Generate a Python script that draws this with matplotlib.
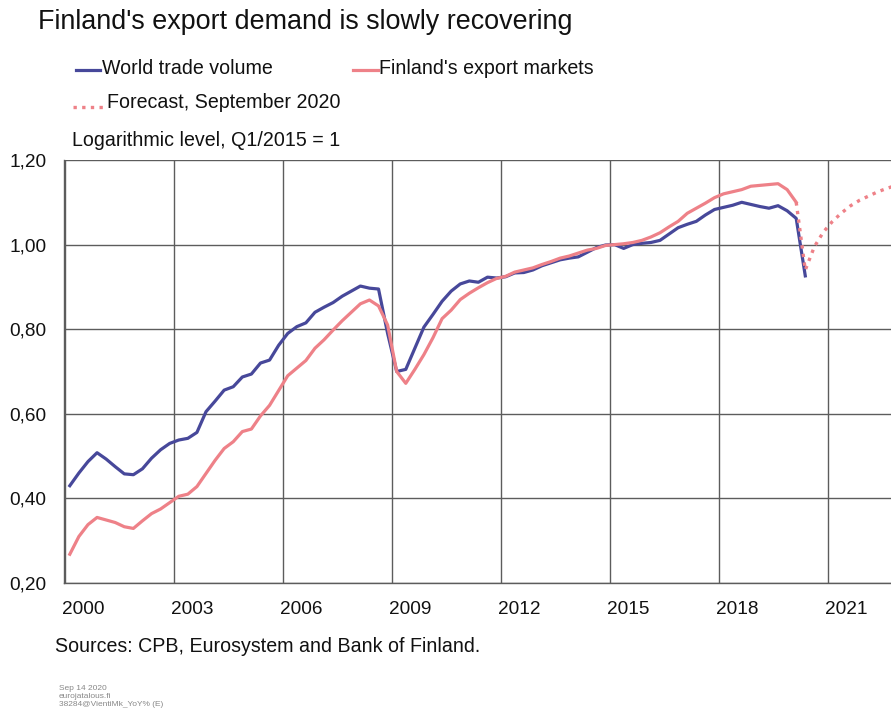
import matplotlib
matplotlib.use("Agg")
import matplotlib.pyplot as plt
from matplotlib.lines import Line2D
import numpy as np

plt.rcParams['font.family'] = ['Liberation Sans', 'DejaVu Sans']

# quarterly data, first quarter 2000Q1, level Q1/2015 = 1
first_year = 2000
world_trade = [
    0.43, 0.46, 0.487, 0.508,
    0.493, 0.475, 0.458, 0.456,
    0.47, 0.495, 0.515, 0.53,
    0.538, 0.542, 0.556, 0.605,
    0.63, 0.656, 0.664, 0.687,
    0.694, 0.72, 0.727, 0.762,
    0.79, 0.806, 0.815, 0.84,
    0.852, 0.863, 0.878, 0.89,
    0.902, 0.897, 0.895, 0.79,
    0.70, 0.705, 0.755, 0.805,
    0.835, 0.866, 0.89, 0.907,
    0.914, 0.911, 0.923, 0.921,
    0.924, 0.933, 0.934, 0.94,
    0.95, 0.957, 0.964, 0.968,
    0.971, 0.982, 0.993, 0.999,
    1.0, 0.991, 1.0, 1.003,
    1.005, 1.01, 1.025, 1.04,
    1.048, 1.055, 1.07, 1.083,
    1.088, 1.093, 1.10, 1.095,
    1.09, 1.086, 1.092, 1.08,
    1.062, 0.926,
]
export_markets = [
    0.268, 0.31, 0.338, 0.355,
    0.349, 0.343, 0.333, 0.329,
    0.347, 0.364, 0.375, 0.39,
    0.405, 0.41, 0.428, 0.459,
    0.49, 0.518, 0.534, 0.558,
    0.564, 0.595, 0.62, 0.655,
    0.69, 0.708, 0.726, 0.755,
    0.775, 0.798, 0.82, 0.84,
    0.86, 0.869, 0.855, 0.81,
    0.70, 0.672, 0.705, 0.74,
    0.78, 0.825, 0.845, 0.87,
    0.885, 0.898, 0.91, 0.92,
    0.925, 0.935, 0.94, 0.945,
    0.953, 0.96, 0.968, 0.973,
    0.98, 0.987, 0.991, 0.998,
    1.0, 1.002, 1.005, 1.01,
    1.018, 1.028, 1.042, 1.055,
    1.074, 1.086, 1.098, 1.111,
    1.12, 1.125, 1.13, 1.138,
    1.14, 1.142, 1.144, 1.13,
    1.10,
]
# forecast starts from 2020Q1
forecast_start = 80
forecast = [1.10, 0.94, 0.995, 1.03, 1.055, 1.075, 1.092, 1.105, 1.115, 1.125, 1.133, 1.14]

year_ticks = list(range(2000, 2022, 3))
y_ticks = [0.2, 0.4, 0.6, 0.8, 1.0, 1.2]

BLUE = '#47489a'
PINK = '#ee8188'
GRID = '#5c5c5c'
TXT = '#111111'
FS = 14.1


def qpos(start, n):
    # middle of each quarter
    return first_year + (np.arange(start, start + n) + 0.5) / 4.0


W, H = 891, 711
fig = plt.figure(figsize=(W / 100, H / 100), dpi=100)
ax = fig.add_axes([64 / W, (H - 583) / H, (W - 64) / W, (583 - 160) / H])

ax.plot(qpos(0, len(world_trade)), world_trade, color=BLUE, lw=2.3, zorder=3)
ax.plot(qpos(0, len(export_markets)), export_markets, color=PINK, lw=2.3, zorder=3)
ax.plot(qpos(forecast_start, len(forecast)), forecast, color=PINK, lw=2.4,
        linestyle=(0, (1, 1.6)), zorder=3)

ax.set_xlim(1999.965, 2022.735)
ax.set_ylim(0.2, 1.2)
ax.set_xticks(year_ticks)
ax.set_xticklabels([])
# year labels sit in the middle of the year
ax.set_xticks([y + 0.5 for y in year_ticks], minor=True)
ax.set_xticklabels([str(y) for y in year_ticks], minor=True)
ax.set_yticks(y_ticks)
ax.set_yticklabels([('%.2f' % v).replace('.', ',') for v in y_ticks])
ax.tick_params(axis='both', which='both', length=0, labelsize=13.7, colors=TXT)
ax.tick_params(axis='x', which='minor', pad=13)
ax.tick_params(axis='y', pad=12.5)
ax.grid(True, which='major', color=GRID, lw=1.0)
for s in ['top', 'right']:
    ax.spines[s].set_visible(False)
for s in ['left', 'bottom']:
    ax.spines[s].set_color(GRID)
    ax.spines[s].set_linewidth(1.0)


def fx(px):
    return px / W


def fy(py):
    return 1 - py / H


fig.text(fx(38), fy(22), "Finland's export demand is slowly recovering", fontsize=19.4,
         va='center', ha='left', color=TXT)

# legend
fig.add_artist(Line2D([fx(76), fx(100)], [fy(70), fy(70)], color=BLUE, lw=2.3))
fig.text(fx(102), fy(69), "World trade volume", fontsize=FS, va='center', ha='left', color=TXT)
fig.add_artist(Line2D([fx(353), fx(378)], [fy(70), fy(70)], color=PINK, lw=2.3))
fig.text(fx(379), fy(69), "Finland's export markets", fontsize=FS, va='center', ha='left', color=TXT)
fig.add_artist(Line2D([fx(73), fx(107)], [fy(107), fy(107)], color=PINK, lw=2.4,
                      linestyle=(0, (1, 1.6))))
fig.text(fx(107), fy(103), "Forecast, September 2020", fontsize=FS, va='center', ha='left', color=TXT)
fig.text(fx(72), fy(141), "Logarithmic level, Q1/2015 = 1", fontsize=FS, va='center', ha='left', color=TXT)

fig.text(fx(55), fy(647), "Sources: CPB, Eurosystem and Bank of Finland.", fontsize=FS,
         va='center', ha='left', color=TXT)
fig.text(fx(59), fy(697), "Sep 14 2020\neurojatalous.fi\n38284@VientiMk_YoY% (E)", fontsize=6,
         va='center', ha='left', color='#888888', linespacing=1.2)

fig.savefig('out.png', dpi=100)
